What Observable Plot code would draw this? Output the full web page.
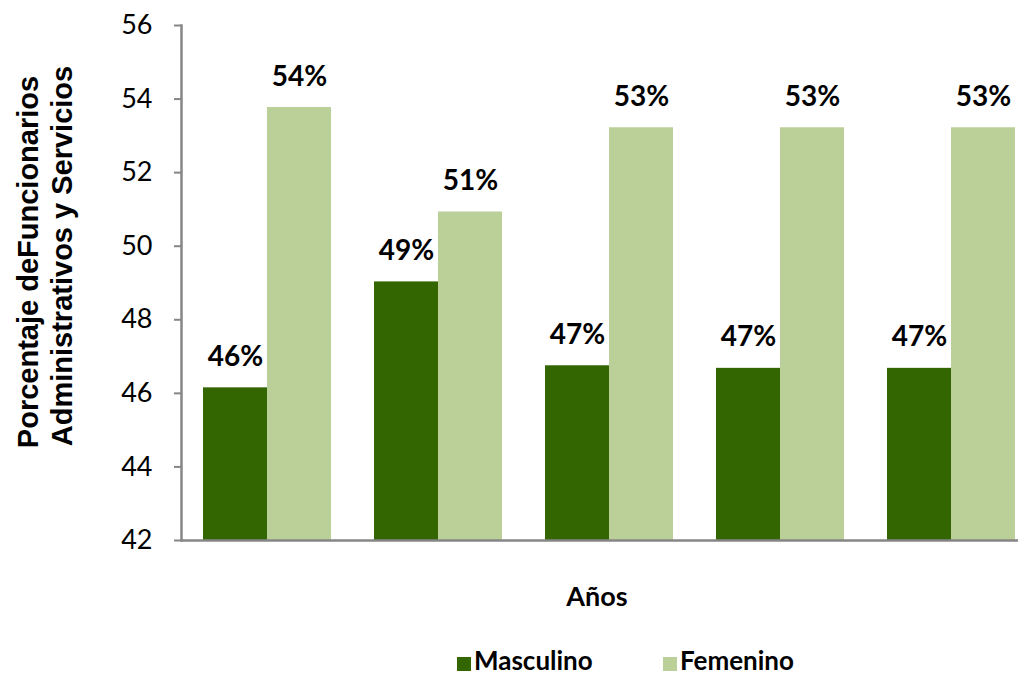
<!DOCTYPE html>
<html><head><meta charset="utf-8">
<script src="https://cdn.jsdelivr.net/npm/d3@7"></script>
<script src="https://cdn.jsdelivr.net/npm/@observablehq/plot@0.6"></script>
<style>
body{margin:0;background:#fff;}
#wrap{position:relative;width:1018px;height:677px;overflow:hidden;font-family:Lato,sans-serif;background:#fff;}
#wrap svg.plot{position:absolute;left:0;top:0;}
#ytitle{position:absolute;left:0;top:0;}
#xtitle{position:absolute;left:497px;width:200px;top:578px;text-align:center;font-weight:bold;font-size:27px;line-height:36px;color:#000;}
#legend{position:absolute;left:457px;top:646px;height:28px;font-weight:bold;font-size:26px;line-height:28px;color:#000;white-space:nowrap;}
#legend span.item{position:absolute;top:0;white-space:nowrap;}
#legend span.sw{position:absolute;top:11px;width:14px;height:14px;}
#legend span.lb{position:absolute;left:17px;top:0;}
</style></head><body><div id="wrap"></div>
<script>
const groups = ["1", "2", "3", "4", "5"];
const series = ["Masculino", "Femenino"];
const masculino = [46.15, 49.03, 46.75, 46.68, 46.68];
const femenino = [53.77, 50.93, 53.22, 53.22, 53.22];
const labelsM = ["46%", "49%", "47%", "47%", "47%"];
const labelsF = ["54%", "51%", "53%", "53%", "53%"];
const yTicks = [42, 44, 46, 48, 50, 52, 54, 56];
const colors = ["#336600", "#BBCF99"];
const yTitle = ["Porcentaje deFuncionarios", "Administrativos y Servicios"];
const xTitle = "Años";

const data = groups.flatMap((g, i) => [
  {group: g, sex: series[0], value: masculino[i], label: labelsM[i]},
  {group: g, sex: series[1], value: femenino[i], label: labelsF[i]}
]);

const chart = Plot.plot({
  width: 1018,
  height: 677,
  marginLeft: 180,
  marginRight: -19.5,
  marginTop: 25,
  marginBottom: 137,
  style: {fontFamily: "Lato, sans-serif", background: "transparent", overflow: "visible"},
  fx: {domain: groups, axis: null, paddingInner: 0, paddingOuter: 0},
  x: {domain: series, axis: null, paddingInner: 0, paddingOuter: 0.333},
  y: {domain: [42, 56], axis: null},
  color: {domain: series, range: colors},
  marks: [
    Plot.barY(data, {fx: "group", x: "sex", y1: 42, y2: "value", fill: "sex"}),
    Plot.text(data, {fx: "group", x: "sex", y: "value", text: "label", dy: -22, lineAnchor: "bottom",
      fontWeight: "bold", fontSize: 28, fill: "#000"}),
    Plot.ruleY([42], {stroke: "#868686", strokeWidth: 2.5}),
    Plot.frame({anchor: "left", stroke: "#868686", strokeWidth: 2.5, facetAnchor: "left"}),
    Plot.axisY({ticks: yTicks, tickSize: 7, tickPadding: 22, fontSize: 27, label: null,
      stroke: "#868686", strokeWidth: 2, fill: "#000", tickFormat: d => String(d)})
  ]
});

const wrap = document.getElementById("wrap");
wrap.appendChild(chart);

// y title (two lines, rotated)
const ns = "http://www.w3.org/2000/svg";
const ts = document.createElementNS(ns, "svg");
ts.setAttribute("id", "ytitle");
ts.setAttribute("width", 100);
ts.setAttribute("height", 560);
const centers = [[28, 262], [62, 256]];
yTitle.forEach((t, i) => {
  const el = document.createElementNS(ns, "text");
  el.setAttribute("transform", `translate(${centers[i][0]},${centers[i][1]}) rotate(-90)`);
  el.setAttribute("text-anchor", "middle");
  el.setAttribute("dominant-baseline", "central");
  el.setAttribute("font-family", "'Liberation Sans', Arial, sans-serif");
  el.setAttribute("font-weight", "bold");
  el.setAttribute("font-size", 29);
  el.setAttribute("fill", "#000");
  el.textContent = t;
  ts.appendChild(el);
});
wrap.appendChild(ts);

const xt = document.createElement("div");
xt.id = "xtitle";
xt.textContent = xTitle;
wrap.appendChild(xt);

const lg = document.createElement("div");
lg.id = "legend";
const offsets = [0, 206];
series.forEach((s, i) => {
  const it = document.createElement("span");
  it.className = "item";
  it.style.left = offsets[i] + "px";
  const sw = document.createElement("span");
  sw.className = "sw";
  sw.style.background = colors[i];
  const lb = document.createElement("span");
  lb.className = "lb";
  lb.textContent = s;
  it.appendChild(sw);
  it.appendChild(lb);
  lg.appendChild(it);
});
wrap.appendChild(lg);
</script></body></html>
